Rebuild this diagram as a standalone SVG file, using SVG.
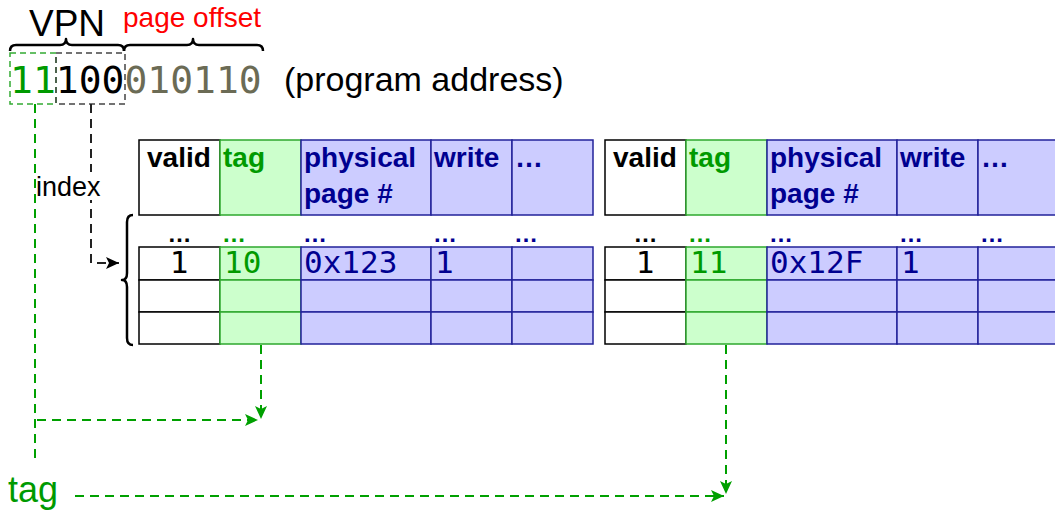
<svg xmlns="http://www.w3.org/2000/svg" width="1055" height="510" viewBox="0 0 1055 510">
<style>
  .sans { font-family: "Liberation Sans", Arial, sans-serif; }
  .mono { font-family: "DejaVu Sans Mono", monospace; }
  .hdr { font-family: "Liberation Sans", Arial, sans-serif; font-weight: bold; font-size: 28px; }
  .dots { font-family: "Liberation Sans", Arial, sans-serif; font-weight: bold; font-size: 24px; }
  .val { font-family: "DejaVu Sans Mono", monospace; font-size: 31px; }
  .cw { fill: #ffffff; stroke: #000000; stroke-width: 1.5; }
  .cg { fill: #ccffcc; stroke: #2ea82e; stroke-width: 1.5; }
  .cb { fill: #ccccff; stroke: #22229a; stroke-width: 1.5; }
  .tk { fill: #000000; }
  .tg { fill: #009a00; }
  .tb { fill: #000090; }
  .gdash { fill: none; stroke: #00a000; stroke-width: 2; stroke-dasharray: 9 6; }
  .kdash { fill: none; stroke: #222222; stroke-width: 2; stroke-dasharray: 9 6; }
  .brace { fill: none; stroke: #000000; stroke-width: 2.5; stroke-linejoin: round; }
</style>
<defs>
  <marker id="ag" markerUnits="userSpaceOnUse" markerWidth="14" markerHeight="12" refX="13" refY="6" orient="auto">
    <path d="M0,0 L13,6 L0,12 L3,6 Z" fill="#00a000"/>
  </marker>
  <marker id="ak" markerUnits="userSpaceOnUse" markerWidth="14" markerHeight="12" refX="13" refY="6" orient="auto">
    <path d="M0,0 L13,6 L0,12 L3,6 Z" fill="#000000"/>
  </marker>
  <g id="table">
    <rect class="cw" x="0" y="0" width="81" height="75"/>
    <rect class="cg" x="81" y="0" width="81" height="75"/>
    <rect class="cb" x="162" y="0" width="130" height="75"/>
    <rect class="cb" x="292" y="0" width="81" height="75"/>
    <rect class="cb" x="373" y="0" width="81" height="75"/>
    <text class="hdr tk" x="8" y="27">valid</text>
    <text class="hdr tg" x="84" y="27">tag</text>
    <text class="hdr tb" x="165" y="27">physical</text>
    <text class="hdr tb" x="165" y="63">page #</text>
    <text class="hdr tb" x="295" y="27">write</text>
    <text class="hdr tb" x="376" y="27">…</text>
    <text class="dots tk" x="40.5" y="102" text-anchor="middle">…</text>
    <text class="dots tg" x="83" y="102">…</text>
    <text class="dots tb" x="164" y="102">…</text>
    <text class="dots tb" x="294" y="102">…</text>
    <text class="dots tb" x="375" y="102">…</text>
    <rect class="cw" x="0" y="107" width="81" height="33"/>
    <rect class="cw" x="0" y="140" width="81" height="32"/>
    <rect class="cw" x="0" y="172" width="81" height="32"/>
    <rect class="cg" x="81" y="107" width="81" height="33"/>
    <rect class="cg" x="81" y="140" width="81" height="32"/>
    <rect class="cg" x="81" y="172" width="81" height="32"/>
    <rect class="cb" x="162" y="107" width="130" height="33"/>
    <rect class="cb" x="162" y="140" width="130" height="32"/>
    <rect class="cb" x="162" y="172" width="130" height="32"/>
    <rect class="cb" x="292" y="107" width="81" height="33"/>
    <rect class="cb" x="292" y="140" width="81" height="32"/>
    <rect class="cb" x="292" y="172" width="81" height="32"/>
    <rect class="cb" x="373" y="107" width="81" height="33"/>
    <rect class="cb" x="373" y="140" width="81" height="32"/>
    <rect class="cb" x="373" y="172" width="81" height="32"/>
    <text class="val tk" x="40" y="133" text-anchor="middle">1</text>
    <text class="val tb" x="296" y="133">1</text>
  </g>
</defs>

<g id="address">
  <text class="sans" x="67" y="36" font-size="37" text-anchor="middle" fill="#000000">VPN</text>
  <text class="sans" x="123" y="27" font-size="28" fill="#ff0000">page offset</text>
  <path class="brace" d="M10,51 Q10,45 16,45 L60,45 Q66,45 66,39 Q66,45 72,45 L118,45 Q124,45 124,51" stroke-width="2"/>
  <path class="brace" d="M124,51 Q124,45 130,45 L187,45 Q193,45 193,39 Q193,45 199,45 L257,45 Q263,45 263,51" stroke="#222222" stroke-width="2"/>
  <text class="mono" x="10" y="93" font-size="38"><tspan fill="#009a00">11</tspan><tspan fill="#000000">100</tspan><tspan fill="#6b6b55">010110</tspan></text>
  <text class="sans" x="284" y="91" font-size="34" fill="#000000">(program address)</text>
  <rect x="10" y="53" width="46" height="51" fill="none" stroke="#33aa33" stroke-width="1.5" stroke-dasharray="6 4"/>
  <rect x="56" y="53" width="69" height="51" fill="none" stroke="#444444" stroke-width="1.5" stroke-dasharray="6 4"/>
</g>

<g id="connectors">
  <path class="gdash" d="M35,104 V463"/>
  <path class="gdash" d="M37,420 H258" marker-end="url(#ag)"/>
  <path class="gdash" d="M261,345 V419" marker-end="url(#ag)"/>
  <path class="gdash" d="M75,496 H724" marker-end="url(#ag)"/>
  <path class="gdash" d="M726,345 V494" marker-end="url(#ag)"/>
  <path class="kdash" d="M91,104 V263 H119" marker-end="url(#ak)"/>
</g>

<g id="index-label">
  <rect x="37" y="172" width="66" height="28" fill="#ffffff"/>
  <text class="sans" x="36" y="196" font-size="27" fill="#000000">index</text>
</g>

<g id="brace-rows">
  <path class="brace" d="M133,215 Q127,215 127,222 L127,273 Q127,280 122,280 Q127,280 127,287 L127,338 Q127,345 133,345"/>
</g>

<g id="table1" transform="translate(139,140)">
  <use href="#table"/>
  <text class="val tg" x="85" y="133">10</text>
  <text class="val tb" x="165" y="133">0x123</text>
</g>

<g id="table2" transform="translate(605,140)">
  <use href="#table"/>
  <text class="val tg" x="85" y="133">11</text>
  <text class="val tb" x="165" y="133">0x12F</text>
</g>

<g id="tag-label">
  <text class="sans" x="8" y="502" font-size="36" fill="#009a00">tag</text>
</g>
</svg>
